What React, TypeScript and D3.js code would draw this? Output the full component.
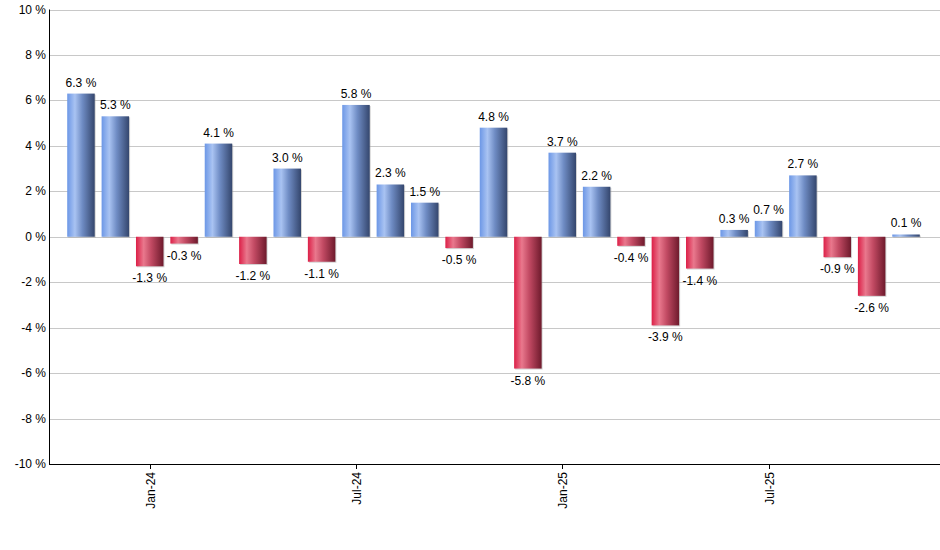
import { useEffect } from "react";
import * as d3 from "d3";

const MONTHS = [
  "Nov-23", "Dec-23", "Jan-24", "Feb-24", "Mar-24", "Apr-24", "May-24", "Jun-24",
  "Jul-24", "Aug-24", "Sep-24", "Oct-24", "Nov-24", "Dec-24", "Jan-25", "Feb-25",
  "Mar-25", "Apr-25", "May-25", "Jun-25", "Jul-25", "Aug-25", "Sep-25", "Oct-25", "Nov-25",
];

const RETURNS = [
  6.3, 5.3, -1.3, -0.3, 4.1, -1.2, 3.0, -1.1, 5.8, 2.3, 1.5, -0.5, 4.8,
  -5.8, 3.7, 2.2, -0.4, -3.9, -1.4, 0.3, 0.7, 2.7, -0.9, -2.6, 0.1,
];

const X_TICKS = ["Jan-24", "Jul-24", "Jan-25", "Jul-25"];
const Y_TICKS = [-10, -8, -6, -4, -2, 0, 2, 4, 6, 8, 10];

const W = 940;
const H = 550;
const margin = { top: 9.5, right: 0, bottom: 86, left: 50 };
const FONT = "'Liberation Sans', Arial, sans-serif";

export default function App() {
  useEffect(() => {
    document.body.style.margin = "0";
  }, []);

  const x = d3
    .scaleBand<string>()
    .domain(MONTHS)
    .range([margin.left - 1, W - margin.right - 2])
    .paddingInner(0.2)
    .paddingOuter(0.53);

  const y = d3
    .scaleLinear()
    .domain([-10, 10])
    .range([H - margin.bottom, margin.top]);

  const bw = x.bandwidth();
  const y0 = y(0);

  return (
    <svg width={W} height={H} style={{ display: "block", background: "#fff" }}>
      <defs>
        <linearGradient id="gBlue" x1="0" x2="1" y1="0" y2="0">
          <stop offset="0" stopColor="#6c97e6" />
          <stop offset="0.28" stopColor="#a9c3f2" />
          <stop offset="0.55" stopColor="#6f8cc4" />
          <stop offset="1" stopColor="#34466d" />
        </linearGradient>
        <linearGradient id="gRed" x1="0" x2="1" y1="0" y2="0">
          <stop offset="0" stopColor="#dc1f47" />
          <stop offset="0.28" stopColor="#e9788d" />
          <stop offset="0.55" stopColor="#c24a63" />
          <stop offset="1" stopColor="#6e1a2c" />
        </linearGradient>
      </defs>

      {/* grid */}
      {Y_TICKS.map((t) => (
        <line
          key={"g" + t}
          x1={margin.left}
          x2={W - margin.right}
          y1={Math.round(y(t)) + 0.5}
          y2={Math.round(y(t)) + 0.5}
          stroke="#c8c8c8"
          strokeWidth={1}
        />
      ))}

      {/* bars */}
      {RETURNS.map((v, i) => {
        const bx = x(MONTHS[i]) ?? 0;
        const top = Math.min(y(v), y0);
        const h = Math.max(Math.abs(y(v) - y0), 1);
        return (
          <g key={MONTHS[i]}>
            <rect x={bx + 1} y={top + 1} width={bw} height={h} fill="#a0a0a0" opacity={0.45} />
            <rect x={bx} y={top} width={bw} height={h} fill={v >= 0 ? "url(#gBlue)" : "url(#gRed)"} />
            <text
              x={bx + bw / 2}
              y={v >= 0 ? y(v) - 7 : y(v) + 16}
              textAnchor="middle"
              fontFamily={FONT}
              fontSize={12}
              fill="#000"
            >
              {v.toFixed(1)} %
            </text>
          </g>
        );
      })}

      {/* y axis */}
      <line x1={margin.left - 0.5} x2={margin.left - 0.5} y1={margin.top} y2={H - margin.bottom} stroke="#000" />
      {Y_TICKS.map((t) => (
        <text
          key={"y" + t}
          x={margin.left - 4}
          y={y(t) + 4}
          textAnchor="end"
          fontFamily={FONT}
          fontSize={12}
          fill="#000"
        >
          {t} %
        </text>
      ))}

      {/* x axis */}
      <line x1={margin.left - 1} x2={W} y1={H - margin.bottom + 0.5} y2={H - margin.bottom + 0.5} stroke="#000" />
      {X_TICKS.map((m) => {
        const cx = Math.round((x(m) ?? 0) + bw / 2) + 0.5;
        const by = H - margin.bottom;
        return (
          <g key={m}>
            <line x1={cx} x2={cx} y1={by} y2={by + 5} stroke="#000" />
            <text
              transform={`translate(${cx + 4},${by + 8}) rotate(-90)`}
              textAnchor="end"
              fontFamily={FONT}
              fontSize={12}
              fill="#000"
            >
              {m}
            </text>
          </g>
        );
      })}
    </svg>
  );
}
